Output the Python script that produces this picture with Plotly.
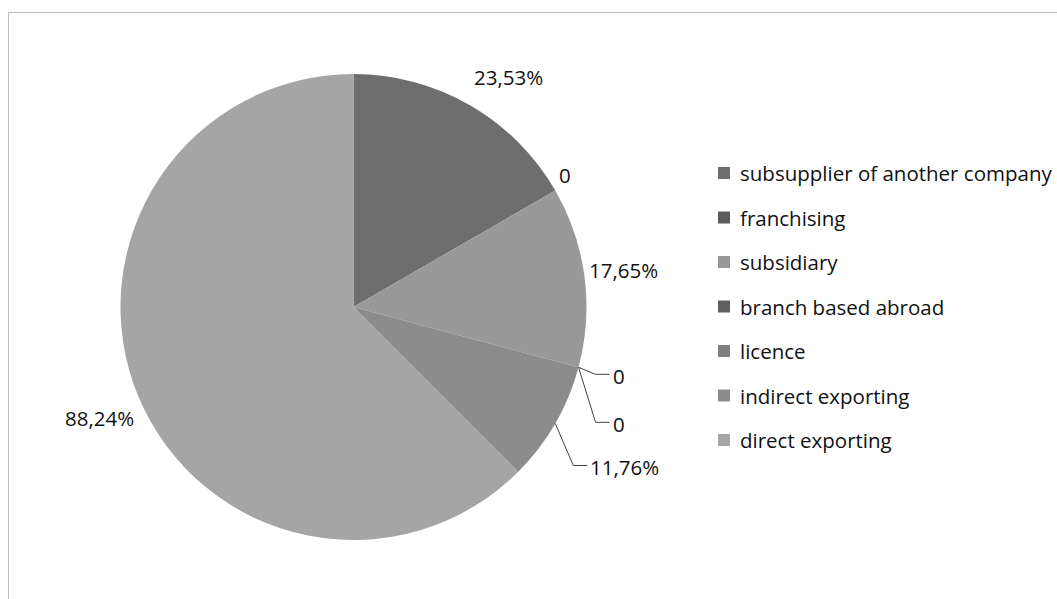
import math
import plotly.graph_objects as go

# Forms of internationalisation (share of firms, %)
categories = [
    "subsupplier of another company",
    "franchising",
    "subsidiary",
    "branch based abroad",
    "licence",
    "indirect exporting",
    "direct exporting",
]
values = [23.53, 0, 17.65, 0, 0, 11.76, 88.24]
colors = ["#6e6e6e", "#5c5c5c", "#999999", "#5f5f5f", "#7f7f7f", "#8c8c8c", "#a5a5a5"]

W, H = 1057, 599
CX, CY, R = 353.5, 307.0, 233.0
FONT = dict(family="Open Sans, Noto Sans, sans-serif", size=20.5, color="#111111")

# label placement per slice: ("free", dx, dy) shifts the label centre from the rim,
# ("leader", ex, ey) draws an elbow leader line ending in a short horizontal stub
label_style = [
    ("free", 38, -28),
    ("free", 10, -15),
    ("free", 38.5, -6.6),
    ("leader", 17, 7),
    ("leader", 17, 55),
    ("leader", 18, 42),
    ("free", -38.7, 21.8),
]


def px(x):
    return x / W


def py(y):
    return 1 - y / H


def fmt(v):
    return "0" if v == 0 else f"{v:.2f}".replace(".", ",") + "%"


fig = go.Figure(
    go.Pie(
        labels=categories,
        values=values,
        marker=dict(colors=colors, line=dict(width=0)),
        sort=False,
        direction="clockwise",
        rotation=0,
        textinfo="none",
        hovertemplate="%{label}: %{value}<extra></extra>",
        showlegend=False,
        domain=dict(x=[px(CX - R), px(CX + R)], y=[py(CY + R), py(CY - R)]),
    )
)

shapes = []
annotations = []

# data labels positioned from each slice's mid-angle
total = sum(values)
cum = 0.0
for v, style in zip(values, label_style):
    theta = math.radians((cum + v / 2) / total * 360)
    cum += v
    rx = CX + R * math.sin(theta)
    ry = CY - R * math.cos(theta)
    kind, a, b = style
    if kind == "free":
        annotations.append(dict(
            x=px(rx + a), y=py(ry + b), xref="paper", yref="paper",
            text=fmt(v), showarrow=False, font=FONT,
            xanchor="center", yanchor="middle",
        ))
    else:
        ex, ey = rx + a, ry + b
        hx = ex + 14
        shapes.append(dict(
            type="path", xref="paper", yref="paper",
            path=f"M {px(rx)},{py(ry)} L {px(ex)},{py(ey)} L {px(hx)},{py(ey)}",
            line=dict(color="#404040", width=1),
        ))
        annotations.append(dict(
            x=px(hx + 1), y=py(ey + 2), xref="paper", yref="paper",
            text=fmt(v), showarrow=False, font=FONT,
            xanchor="left", yanchor="middle",
        ))

# legend: swatch plus label per category
LEG_X, LEG_Y0, LEG_DY, SW = 718, 173, 44.5, 12
for i, (name, c) in enumerate(zip(categories, colors)):
    yc = LEG_Y0 + i * LEG_DY
    shapes.append(dict(
        type="rect", xref="paper", yref="paper",
        x0=px(LEG_X), x1=px(LEG_X + SW), y0=py(yc + SW / 2), y1=py(yc - SW / 2),
        fillcolor=c, line=dict(width=0),
    ))
    annotations.append(dict(
        x=px(LEG_X + SW + 8), y=py(yc), xref="paper", yref="paper",
        text=name, showarrow=False, font=FONT,
        xanchor="left", yanchor="middle",
    ))

# chart frame
shapes.append(dict(
    type="rect", xref="paper", yref="paper",
    x0=px(8.5), x1=px(W + 5), y0=py(H + 5), y1=py(12.5),
    line=dict(color="#bcbcbc", width=1), fillcolor="rgba(0,0,0,0)", layer="below",
))

fig.update_layout(
    width=W, height=H,
    margin=dict(l=0, r=0, t=0, b=0),
    paper_bgcolor="white", plot_bgcolor="white",
    shapes=shapes, annotations=annotations,
    showlegend=False,
)

fig.write_html("out.html")
